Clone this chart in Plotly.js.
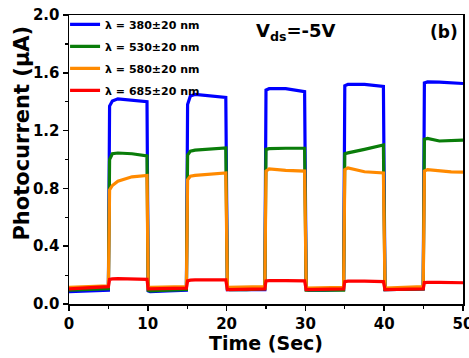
<!DOCTYPE html>
<html><head><meta charset="utf-8">
<script src="https://cdn.plot.ly/plotly-3.0.1.min.js"></script>
<style>html,body{margin:0;padding:0;background:#fff}#c{width:469px;height:358px}</style>
</head><body><div id="c"></div>
<script>
const time = [0, 2.5, 5.0, 5.15, 5.5, 6.2, 8, 9.9, 10.05, 10.3, 12.5, 14.9, 15.05, 15.4, 16, 18, 19.9, 20.1, 20.4, 22.5, 24.85, 25.0, 25.4, 27.5, 29.9, 30.1, 30.4, 32.5, 34.85, 35.0, 35.4, 37.5, 39.9, 40.1, 40.4, 42.5, 44.95, 45.1, 45.5, 47, 48.5, 50];
const blue380 = [0.085, 0.09, 0.095, 1.37, 1.405, 1.42, 1.41, 1.40, 0.09, 0.085, 0.09, 0.095, 1.38, 1.44, 1.45, 1.44, 1.43, 0.10, 0.10, 0.10, 0.10, 1.48, 1.49, 1.49, 1.47, 0.10, 0.095, 0.095, 0.10, 1.51, 1.52, 1.52, 1.505, 0.10, 0.10, 0.10, 0.105, 1.53, 1.537, 1.535, 1.53, 1.526];
const green530 = [0.095, 0.10, 0.105, 1.0, 1.04, 1.045, 1.04, 1.025, 0.095, 0.09, 0.095, 0.10, 1.03, 1.058, 1.065, 1.075, 1.08, 0.105, 0.10, 0.10, 0.105, 1.07, 1.075, 1.078, 1.078, 0.095, 0.095, 0.09, 0.095, 1.04, 1.046, 1.07, 1.10, 0.10, 0.10, 0.10, 0.105, 1.14, 1.146, 1.128, 1.133, 1.134];
const orange580 = [0.115, 0.12, 0.125, 0.79, 0.82, 0.85, 0.88, 0.89, 0.115, 0.115, 0.115, 0.12, 0.86, 0.884, 0.89, 0.90, 0.907, 0.115, 0.115, 0.115, 0.12, 0.92, 0.935, 0.925, 0.92, 0.11, 0.11, 0.115, 0.115, 0.93, 0.942, 0.915, 0.907, 0.11, 0.11, 0.115, 0.12, 0.92, 0.93, 0.92, 0.915, 0.912];
const red685 = [0.105, 0.11, 0.12, 0.17, 0.174, 0.175, 0.172, 0.17, 0.105, 0.105, 0.105, 0.11, 0.16, 0.165, 0.167, 0.167, 0.167, 0.10, 0.10, 0.10, 0.105, 0.16, 0.162, 0.162, 0.16, 0.10, 0.10, 0.10, 0.105, 0.155, 0.158, 0.158, 0.155, 0.10, 0.10, 0.10, 0.105, 0.148, 0.15, 0.15, 0.148, 0.147];
const names = ['λ = 380±20 nm', 'λ = 530±20 nm', 'λ = 580±20 nm', 'λ = 685±20 nm'];
const xTicks = [0, 10, 20, 30, 40, 50];
const yTicks = [0.0, 0.4, 0.8, 1.2, 1.6, 2.0];

const series = [blue380, green530, orange580, red685];
const colors = ['#0000ff', '#0a7d0a', '#ff8a00', '#ff0000'];
const F = '"DejaVu Sans", sans-serif';
const data = series.map((s, i) => ({
  x: time, y: s, type: 'scatter', mode: 'lines', name: names[i],
  legendgroup: 'g' + i,
  line: {color: colors[i], width: 3.2}
}));
const layout = {
  width: 469, height: 358,
  margin: {l: 69, r: 6, t: 15, b: 54},
  paper_bgcolor: '#fff', plot_bgcolor: '#fff',
  showlegend: true,
  legend: {x: -0.01, y: 1.018, xanchor: 'left', yanchor: 'top', bgcolor: 'rgba(0,0,0,0)',
    font: {family: F, size: 11, color: '#000', weight: 'bold'}, tracegroupgap: 3, itemwidth: 30},
  xaxis: {range: [0, 50], tickvals: xTicks, ticktext: xTicks.map(String),
    showgrid: false, zeroline: false, showline: true, mirror: true, linecolor: '#000', linewidth: 1.5,
    ticks: 'outside', ticklen: 5, tickwidth: 1.5, tickcolor: '#000', ticklabeloverflow: 'allow',
    minor: {dtick: 5, tick0: 0, ticks: 'outside', ticklen: 3, tickwidth: 1.2, tickcolor: '#000'},
    tickfont: {family: F, size: 15, color: '#000', weight: 'bold'},
    title: {text: 'Time (Sec)', font: {family: F, size: 19, color: '#000', weight: 'bold'}, standoff: 5}},
  yaxis: {range: [0, 2.0], tickvals: yTicks, ticktext: yTicks.map(v => v.toFixed(1)),
    showgrid: false, zeroline: false, showline: true, mirror: true, linecolor: '#000', linewidth: 1.5,
    ticks: 'outside', ticklen: 5, tickwidth: 1.5, tickcolor: '#000', ticklabeloverflow: 'allow',
    minor: {dtick: 0.2, tick0: 0, ticks: 'outside', ticklen: 3, tickwidth: 1.2, tickcolor: '#000'},
    tickfont: {family: F, size: 15, color: '#000', weight: 'bold'}},
  annotations: [
    {text: 'Photocurrent (μA)', xref: 'paper', yref: 'paper', x: -0.119, y: 0.59, textangle: -90,
      showarrow: false, xanchor: 'center', yanchor: 'middle', font: {family: F, size: 21, color: '#000', weight: 'bold'}},
    {text: 'V<sub>ds</sub>=-5V', xref: 'paper', yref: 'paper', x: 0.575, y: 0.94,
      showarrow: false, xanchor: 'center', yanchor: 'middle', font: {family: F, size: 18, color: '#000', weight: 'bold'}},
    {text: '(b)', xref: 'paper', yref: 'paper', x: 0.952, y: 0.94,
      showarrow: false, xanchor: 'center', yanchor: 'middle', font: {family: F, size: 17, color: '#000', weight: 'bold'}}
  ]
};
Plotly.newPlot('c', data, layout, {displayModeBar: false, staticPlot: true});
</script></body></html>
